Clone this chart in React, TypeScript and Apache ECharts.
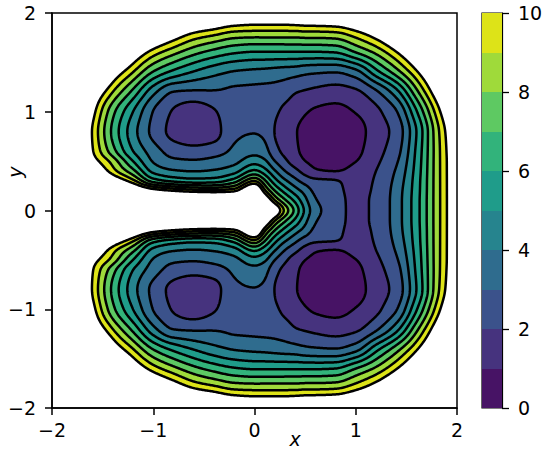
import React, { useEffect, useRef } from "react";
import * as echarts from "echarts";

// Grid nodes of the field (x left→right, y top→bottom)
const xNodes = [-2, -1.8, -1.6, -1.4, -1.2, -1, -0.8, -0.6, -0.4, -0.2, 0, 0.1, 0.2, 0.3, 0.4, 0.5, 0.6, 0.8, 1, 1.2, 1.4, 1.6, 1.8, 2];
const yNodes = [2, 1.8, 1.6, 1.4, 1.2, 1, 0.8, 0.6, 0.5, 0.4, 0.3, 0.2, 0.1, 0, -0.1, -0.2, -0.3, -0.4, -0.5, -0.6, -0.8, -1, -1.2, -1.4, -1.6, -1.8, -2];

// Field values, one row per yNode
const zRows = [
  [27, 24.4, 22, 19.6, 17.6, 16, 14.8, 14, 13.2, 12.4, 12, 12, 12, 12, 12.2, 12.3, 12.4, 12.6, 13.2, 14.3, 16.5, 19, 22, 26],
  [24, 21.4, 19, 16.6, 14.4, 12.6, 11.2, 10, 9.4, 8.8, 8.7, 8.7, 8.7, 8.7, 8.7, 8.8, 8.8, 8.9, 9.7, 10.9, 12.7, 15, 18.1, 22],
  [23, 20, 17, 14, 11.4, 9.5, 8.3, 7.3, 6.6, 6.1, 5.9, 5.9, 5.9, 5.9, 5.9, 5.9, 5.9, 6.0, 7.0, 8.2, 9.9, 12.1, 15, 18.7],
  [20, 17, 14.8, 11.2, 9.0, 6.9, 5.7, 4.9, 4.3, 3.9, 3.75, 3.7, 3.6, 3.5, 3.4, 3.2, 3.1, 3.0, 3.6, 5.6, 7.5, 9.8, 12.6, 16.2],
  [19, 15.6, 11.8, 9.0, 6.7, 4.3, 2.95, 2.85, 2.9, 2.8, 2.75, 2.7, 2.6, 2.4, 2.05, 1.9, 1.75, 1.55, 1.8, 2.8, 4.6, 7.7, 10.9, 14.3],
  [18.6, 14.6, 10.5, 7.3, 5.0, 2.95, 1.9, 1.45, 1.9, 2.6, 2.6, 2.5, 2.15, 1.8, 1.5, 1.1, 0.85, 0.7, 1.05, 1.75, 2.9, 5.9, 9.4, 12.8],
  [17.8, 13.6, 9.9, 6.75, 4.4, 2.7, 1.7, 1.3, 1.6, 2.8, 2.95, 2.8, 1.95, 1.6, 1.1, 0.65, 0.45, 0.32, 0.6, 1.5, 2.35, 5.0, 8.6, 11.9],
  [17.5, 13.5, 10.1, 7.4, 5.0, 3.5, 2.6, 2.4, 2.6, 3.2, 3.7, 3.4, 2.3, 1.75, 1.2, 0.75, 0.5, 0.4, 0.75, 1.65, 2.6, 5.2, 8.5, 11.6],
  [17.5, 14, 10.7, 8.6, 6.0, 3.9, 3.2, 3.1, 3.3, 3.7, 4.6, 4.2, 3.0, 2.2, 1.5, 1.0, 0.75, 0.55, 0.97, 1.8, 2.85, 5.3, 8.5, 11.5],
  [18, 15.5, 12, 9.4, 7.3, 4.7, 4.1, 3.95, 4.1, 4.6, 6.2, 5.4, 4.1, 3.0, 2.3, 1.6, 1.1, 0.95, 1.4, 2.0, 3.1, 5.4, 8.5, 11.5],
  [19.5, 17, 14, 11.5, 9.3, 6.5, 5.7, 5.4, 5.5, 6.5, 9.0, 7.2, 5.4, 4.2, 3.3, 2.6, 2.25, 2.1, 1.65, 2.1, 3.3, 5.5, 8.5, 11.5],
  [20.5, 18, 16, 14.5, 12.5, 10.8, 10.0, 9.5, 9.3, 9.7, 13, 9.2, 7.0, 5.6, 4.5, 3.6, 2.75, 2.25, 1.75, 2.15, 3.45, 5.55, 8.5, 11.5],
  [21, 19, 17, 16.5, 14.5, 14, 14, 14, 14, 14, 16, 12.5, 9.0, 7.2, 5.8, 4.3, 3.1, 2.35, 1.8, 2.2, 3.5, 5.6, 8.5, 11.5],
  [21, 19.5, 18, 17.5, 16, 16, 16, 16, 16, 16, 19, 16, 12, 8.8, 6.8, 4.8, 3.4, 2.4, 1.8, 2.2, 3.5, 5.6, 8.5, 11.5],
  [21, 19, 17, 16.5, 14.5, 14, 14, 14, 14, 14, 16, 12.5, 9.0, 7.2, 5.8, 4.3, 3.1, 2.35, 1.8, 2.2, 3.5, 5.6, 8.5, 11.5],
  [20.5, 18, 16, 14.5, 12.5, 10.8, 10.0, 9.5, 9.3, 9.7, 13, 9.2, 7.0, 5.6, 4.5, 3.6, 2.75, 2.25, 1.75, 2.15, 3.45, 5.55, 8.5, 11.5],
  [19.5, 17, 14, 11.5, 9.3, 6.5, 5.7, 5.4, 5.5, 6.5, 9.0, 7.2, 5.4, 4.2, 3.3, 2.6, 2.25, 2.1, 1.65, 2.1, 3.3, 5.5, 8.5, 11.5],
  [18, 15.5, 12, 9.4, 7.3, 4.7, 4.1, 3.95, 4.1, 4.6, 6.2, 5.4, 4.1, 3.0, 2.3, 1.6, 1.1, 0.95, 1.4, 2.0, 3.1, 5.4, 8.5, 11.5],
  [17.5, 14, 10.7, 8.6, 6.0, 3.9, 3.2, 3.1, 3.3, 3.7, 4.6, 4.2, 3.0, 2.2, 1.5, 1.0, 0.75, 0.55, 0.97, 1.8, 2.85, 5.3, 8.5, 11.5],
  [17.5, 13.5, 10.1, 7.4, 5.0, 3.5, 2.6, 2.4, 2.6, 3.2, 3.7, 3.4, 2.3, 1.75, 1.2, 0.75, 0.5, 0.4, 0.75, 1.65, 2.6, 5.2, 8.5, 11.6],
  [17.8, 13.6, 9.9, 6.75, 4.4, 2.7, 1.7, 1.3, 1.6, 2.8, 2.95, 2.8, 1.95, 1.6, 1.1, 0.65, 0.45, 0.32, 0.6, 1.5, 2.35, 5.0, 8.6, 11.9],
  [18.6, 14.6, 10.5, 7.3, 5.0, 2.95, 1.9, 1.45, 1.9, 2.6, 2.6, 2.5, 2.15, 1.8, 1.5, 1.1, 0.85, 0.7, 1.05, 1.75, 2.9, 5.9, 9.4, 12.8],
  [19, 15.6, 11.8, 9.0, 6.7, 4.3, 2.95, 2.85, 2.9, 2.8, 2.75, 2.7, 2.6, 2.4, 2.05, 1.9, 1.75, 1.55, 1.8, 2.8, 4.6, 7.7, 10.9, 14.3],
  [20, 17, 14.8, 11.2, 9.0, 6.9, 5.7, 4.9, 4.3, 3.9, 3.75, 3.7, 3.6, 3.5, 3.4, 3.2, 3.1, 3.0, 3.6, 5.6, 7.5, 9.8, 12.6, 16.2],
  [23, 20, 17, 14, 11.4, 9.5, 8.3, 7.3, 6.6, 6.1, 5.9, 5.9, 5.9, 5.9, 5.9, 5.9, 5.9, 6.0, 7.0, 8.2, 9.9, 12.1, 15, 18.7],
  [24, 21.4, 19, 16.6, 14.4, 12.6, 11.2, 10, 9.4, 8.8, 8.7, 8.7, 8.7, 8.7, 8.7, 8.8, 8.8, 8.9, 9.7, 10.9, 12.7, 15, 18.1, 22],
  [27, 24.4, 22, 19.6, 17.6, 16, 14.8, 14, 13.2, 12.4, 12, 12, 12, 12, 12.2, 12.3, 12.4, 12.6, 13.2, 14.3, 16.5, 19, 22, 26],
];

const contourLevels = [0, 1, 2, 3, 4, 5, 6, 7, 8, 9, 10];
const bandColors = ["#471365", "#46337e", "#3b528b", "#2f6c8e", "#26848e", "#1f9c8a", "#32b37b", "#5ec962", "#9fda3a", "#dde318"];

function makePchip(xs: number[], ys: number[]) {
  const n = xs.length;
  const h: number[] = [];
  const d: number[] = [];
  for (let k = 0; k < n - 1; k++) {
    h.push(xs[k + 1] - xs[k]);
    d.push((ys[k + 1] - ys[k]) / h[k]);
  }
  const m = new Array(n).fill(0);
  m[0] = d[0];
  m[n - 1] = d[n - 2];
  for (let k = 1; k < n - 1; k++) {
    if (d[k - 1] * d[k] <= 0) m[k] = 0;
    else {
      const w1 = 2 * h[k] + h[k - 1];
      const w2 = h[k] + 2 * h[k - 1];
      m[k] = (w1 + w2) / (w1 / d[k - 1] + w2 / d[k]);
    }
  }
  return (t: number) => {
    let k = 0;
    while (k < n - 2 && t > xs[k + 1]) k++;
    const hh = h[k];
    const s = (t - xs[k]) / hh;
    const s2 = s * s;
    const s3 = s2 * s;
    return (2 * s3 - 3 * s2 + 1) * ys[k] + (s3 - 2 * s2 + s) * hh * m[k] + (-2 * s3 + 3 * s2) * ys[k + 1] + (s3 - s2) * hh * m[k + 1];
  };
}

function blur(F: Float64Array, N: number, sigma: number) {
  const r = Math.ceil(sigma * 3);
  const w: number[] = [];
  let sum = 0;
  for (let k = -r; k <= r; k++) {
    const v = Math.exp(-(k * k) / (2 * sigma * sigma));
    w.push(v);
    sum += v;
  }
  for (let k = 0; k < w.length; k++) w[k] /= sum;
  const tmp = new Float64Array(N * N);
  for (let j = 0; j < N; j++)
    for (let i = 0; i < N; i++) {
      let acc = 0;
      for (let k = -r; k <= r; k++) {
        const ii = Math.min(N - 1, Math.max(0, i + k));
        acc += w[k + r] * F[j * N + ii];
      }
      tmp[j * N + i] = acc;
    }
  const out = new Float64Array(N * N);
  for (let j = 0; j < N; j++)
    for (let i = 0; i < N; i++) {
      let acc = 0;
      for (let k = -r; k <= r; k++) {
        const jj = Math.min(N - 1, Math.max(0, j + k));
        acc += w[k + r] * tmp[jj * N + i];
      }
      out[j * N + i] = acc;
    }
  return out;
}

function buildField(N: number, step: number) {
  const xf = new Float64Array(N);
  const yf = new Float64Array(N);
  for (let i = 0; i < N; i++) {
    xf[i] = -2 + i * step;
    yf[i] = -2 + i * step;
  }
  const ysAsc = yNodes.slice().reverse();
  const rowsAsc = zRows.slice().reverse();
  const rowFine = rowsAsc.map((r) => {
    const f = makePchip(xNodes, r);
    const out = new Float64Array(N);
    for (let i = 0; i < N; i++) out[i] = f(xf[i]);
    return out;
  });
  const F0 = new Float64Array(N * N);
  for (let i = 0; i < N; i++) {
    const col = rowFine.map((r) => r[i]);
    const f = makePchip(ysAsc, col);
    for (let j = 0; j < N; j++) F0[j * N + i] = f(yf[j]);
  }
  const F = blur(F0, N, 2);
  return { xf, yf, F };
}

function bandOf(v: number) {
  if (v > 10) return -1;
  return Math.max(0, Math.min(9, Math.floor(v)));
}

function contourLines(xf: Float64Array, yf: Float64Array, F: Float64Array, N: number, L: number) {
  const NN = N * N;
  const segA: number[] = [];
  const segB: number[] = [];
  const pos = new Map<number, [number, number]>();
  const ep = (key: number, x1: number, y1: number, v1: number, x2: number, y2: number, v2: number) => {
    if (!pos.has(key)) {
      const t = (L - v1) / (v2 - v1);
      pos.set(key, [x1 + t * (x2 - x1), y1 + t * (y2 - y1)]);
    }
    return key;
  };
  for (let j = 0; j < N - 1; j++) {
    for (let i = 0; i < N - 1; i++) {
      const a = F[j * N + i], b = F[j * N + i + 1], c = F[(j + 1) * N + i + 1], d = F[(j + 1) * N + i];
      const idx = (a >= L ? 1 : 0) | (b >= L ? 2 : 0) | (c >= L ? 4 : 0) | (d >= L ? 8 : 0);
      if (idx === 0 || idx === 15) continue;
      const x0 = xf[i], x1 = xf[i + 1], y0 = yf[j], y1 = yf[j + 1];
      const B = () => ep(j * N + i, x0, y0, a, x1, y0, b);
      const T = () => ep((j + 1) * N + i, x0, y1, d, x1, y1, c);
      const Lf = () => ep(NN + j * N + i, x0, y0, a, x0, y1, d);
      const R = () => ep(NN + j * N + i + 1, x1, y0, b, x1, y1, c);
      const add = (p: number, q: number) => { segA.push(p); segB.push(q); };
      const center = (a + b + c + d) / 4;
      switch (idx) {
        case 1: case 14: add(Lf(), B()); break;
        case 2: case 13: add(B(), R()); break;
        case 3: case 12: add(Lf(), R()); break;
        case 4: case 11: add(R(), T()); break;
        case 6: case 9: add(B(), T()); break;
        case 7: case 8: add(Lf(), T()); break;
        case 5:
          if (center >= L) { add(B(), R()); add(Lf(), T()); } else { add(Lf(), B()); add(R(), T()); }
          break;
        case 10:
          if (center >= L) { add(Lf(), B()); add(R(), T()); } else { add(B(), R()); add(Lf(), T()); }
          break;
      }
    }
  }
  const adj = new Map<number, number[]>();
  for (let s = 0; s < segA.length; s++) {
    for (const k of [segA[s], segB[s]]) {
      const arr = adj.get(k);
      if (arr) arr.push(s); else adj.set(k, [s]);
    }
  }
  const used = new Uint8Array(segA.length);
  const lines: number[][][] = [];
  for (let s = 0; s < segA.length; s++) {
    if (used[s]) continue;
    used[s] = 1;
    const chain = [segA[s], segB[s]];
    let cur = segB[s];
    for (;;) {
      const nb = (adj.get(cur) || []).find((q) => !used[q]);
      if (nb === undefined) break;
      used[nb] = 1;
      const nxt = segA[nb] === cur ? segB[nb] : segA[nb];
      chain.push(nxt);
      cur = nxt;
    }
    cur = segA[s];
    for (;;) {
      const nb = (adj.get(cur) || []).find((q) => !used[q]);
      if (nb === undefined) break;
      used[nb] = 1;
      const nxt = segA[nb] === cur ? segB[nb] : segA[nb];
      chain.unshift(nxt);
      cur = nxt;
    }
    lines.push(chain.map((k) => pos.get(k) as [number, number]));
  }
  return lines;
}

const minusFmt = (v: number) => (v < 0 ? "\u2212" + Math.abs(v) : String(v));

export default function App() {
  const ref = useRef<HTMLDivElement>(null);
  useEffect(() => {
    const el = ref.current as HTMLDivElement;
    const chart = echarts.init(el, null, { renderer: "svg" });
    const N = 401;
    const step = 0.01;
    const half = step / 2;
    const { xf, yf, F } = buildField(N, step);

    const runs: number[][] = [];
    for (let j = 0; j < N; j++) {
      let i = 0;
      while (i < N) {
        const b = bandOf(F[j * N + i]);
        let k = i;
        while (k + 1 < N && bandOf(F[j * N + k + 1]) === b) k++;
        if (b >= 0) runs.push([Math.max(-2, xf[i] - half), Math.min(2, xf[k] + half), yf[j], b]);
        i = k + 1;
      }
    }

    const polylines: number[][][] = [];
    for (const L of contourLevels.slice(1)) {
      for (const ln of contourLines(xf, yf, F, N, L)) if (ln.length > 1) polylines.push(ln);
    }

    const font = { color: "#000", fontSize: 19, fontFamily: "DejaVu Sans" };
    const axisCommon = {
      type: "value",
      min: -2,
      max: 2,
      interval: 1,
      axisLine: { show: true, onZero: false, lineStyle: { color: "#000", width: 1.5 } },
      axisTick: { show: true, inside: false, length: 7, lineStyle: { color: "#000", width: 1.5 } },
      splitLine: { show: false },
    };

    chart.setOption({
      animation: false,
      backgroundColor: "#fff",
      grid: [
        { left: 52, top: 13, width: 405, height: 395, show: true, borderColor: "#000", borderWidth: 1.5, backgroundColor: "transparent" },
        { left: 482, top: 13, width: 20, height: 395, show: true, borderColor: "#000", borderWidth: 1.2, backgroundColor: "transparent" },
      ],
      xAxis: [
        { ...axisCommon, gridIndex: 0, axisLabel: { ...font, formatter: minusFmt, margin: 12 } },
        { type: "value", gridIndex: 1, min: 0, max: 1, show: false },
      ],
      yAxis: [
        { ...axisCommon, gridIndex: 0, axisLabel: { ...font, formatter: minusFmt, margin: 16 } },
        {
          type: "value",
          gridIndex: 1,
          min: 0,
          max: 10,
          interval: 2,
          position: "right",
          axisLine: { show: true, onZero: false, lineStyle: { color: "#000", width: 1.2 } },
          axisTick: { show: true, inside: false, length: 7, lineStyle: { color: "#000", width: 1.3 } },
          axisLabel: { ...font, margin: 16 },
          splitLine: { show: false },
        },
      ],
      series: [
        {
          type: "custom",
          name: "fill",
          xAxisIndex: 0,
          yAxisIndex: 0,
          silent: true,
          progressive: 0,
          z: 1,
          dimensions: ["x0", "x1", "y", "band"],
          encode: { x: [0, 1], y: 2 },
          data: runs,
          renderItem: (params: any, api: any) => {
            const x0 = api.value(0), x1 = api.value(1), y = api.value(2), b = api.value(3);
            const p0 = api.coord([x0, Math.min(2, y + half)]);
            const p1 = api.coord([x1, Math.max(-2, y - half)]);
            const l = Math.round(p0[0]), r = Math.round(p1[0]);
            const t = Math.round(p0[1]), btm = Math.round(p1[1]);
            if (r <= l || btm <= t) return null;
            return {
              type: "rect",
              shape: { x: l, y: t, width: r - l, height: btm - t },
              style: { fill: bandColors[b] },
            };
          },
        },
        {
          type: "custom",
          name: "lines",
          xAxisIndex: 0,
          yAxisIndex: 0,
          silent: true,
          progressive: 0,
          z: 2,
          encode: { x: 0, y: 1 },
          data: polylines.map((p) => [p[0][0], p[0][1]]),
          renderItem: (params: any, api: any) => {
            const pts = polylines[params.dataIndex].map((p) => api.coord(p));
            return {
              type: "polyline",
              shape: { points: pts },
              style: { stroke: "#000", lineWidth: 2.5, fill: "none", lineJoin: "round", lineCap: "round" },
            };
          },
        },
        {
          type: "custom",
          name: "colorbar",
          xAxisIndex: 1,
          yAxisIndex: 1,
          silent: true,
          z: 1,
          encode: { y: [0, 1] },
          data: bandColors.map((_, k) => [contourLevels[k], contourLevels[k + 1], k]),
          renderItem: (params: any, api: any) => {
            const lo = api.value(0), hi = api.value(1), k = api.value(2);
            const p0 = api.coord([0, hi]);
            const p1 = api.coord([1, lo]);
            return {
              type: "rect",
              shape: { x: p0[0], y: Math.round(p0[1]), width: p1[0] - p0[0], height: Math.round(p1[1]) - Math.round(p0[1]) },
              style: { fill: bandColors[k] },
            };
          },
        },
      ],
      graphic: [
        { type: "text", x: 295, y: 439, style: { text: "x", fontSize: 19, fontFamily: "DejaVu Sans", fontStyle: "italic", fill: "#000", align: "center", verticalAlign: "middle" } },
        { type: "text", x: 15, y: 172, rotation: Math.PI / 2, style: { text: "y", fontSize: 19, fontFamily: "DejaVu Sans", fontStyle: "italic", fill: "#000", align: "center", verticalAlign: "middle" } },
      ],
    });
    return () => chart.dispose();
  }, []);
  return <div ref={ref} style={{ position: "fixed", left: 0, top: 0, width: 550, height: 449, background: "#fff" }} />;
}
